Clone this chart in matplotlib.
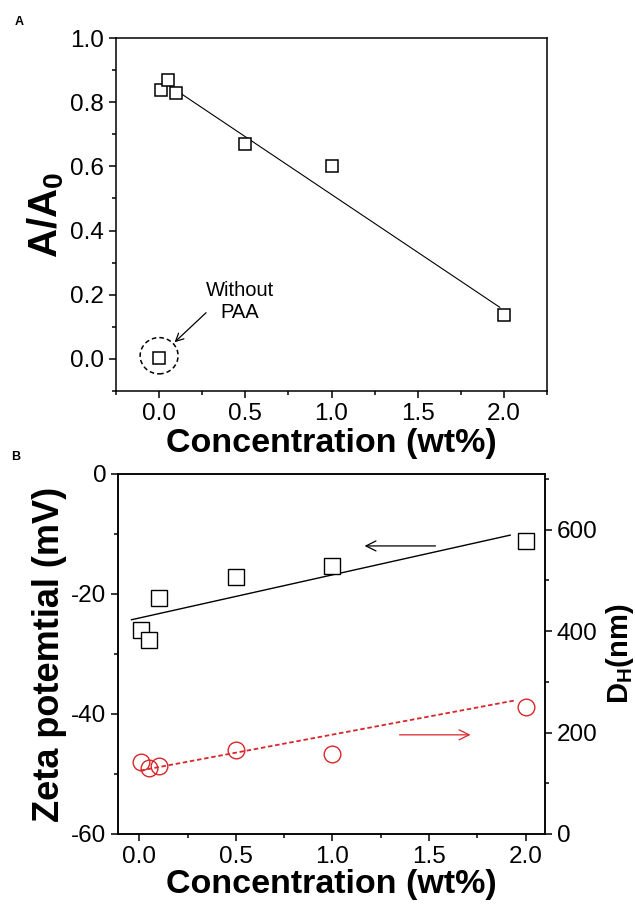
import matplotlib
matplotlib.use("Agg")
import matplotlib.pyplot as plt
from matplotlib.patches import Ellipse
from matplotlib.ticker import MultipleLocator

plt.rcParams['font.family'] = ['Liberation Sans', 'DejaVu Sans']
plt.rcParams['mathtext.fontset'] = 'custom'
plt.rcParams['mathtext.rm'] = 'Liberation Sans'
plt.rcParams['mathtext.bf'] = 'Liberation Sans:bold'
plt.rcParams['mathtext.it'] = 'Liberation Sans:italic'
plt.rcParams['axes.unicode_minus'] = False

# ---- data ----
conc_a = [0.01, 0.05, 0.10, 0.5, 1.0, 2.0]
a_ratio = [0.839, 0.870, 0.828, 0.669, 0.600, 0.137]
conc_nopaa = [0.0]
a_nopaa = [0.004]
fit_a_x = [0.06, 1.976]
fit_a_y = [0.851, 0.161]

conc_b = [0.01, 0.05, 0.10, 0.5, 1.0, 2.0]
zeta = [-26.0, -27.7, -20.7, -17.2, -15.3, -11.2]
dh = [141, 131, 134, 166, 158, 250]
fit_zeta_x = [-0.04, 1.92]
fit_zeta_y = [-24.3, -10.2]
fit_dh_x = [0.005, 1.94]
fit_dh_y = [125, 263]

red = '#d8262c'
TICK_FS = 17.5
XLAB_FS = 24.5

fig = plt.figure(figsize=(6.35, 9.06), dpi=100)

# ---------------- Panel A ----------------
ax = fig.add_axes([0.1827, 0.5684, 0.6787, 0.3896])
ax.plot(fit_a_x, fit_a_y, color='black', lw=0.8)
ax.plot(conc_a, a_ratio, ls='none', marker='s', ms=9, mfc='white', mec='black', mew=1.1)
ax.plot(conc_nopaa, a_nopaa, ls='none', marker='s', ms=9, mfc='white', mec='black', mew=1.1)
ax.add_patch(Ellipse((0.0, 0.01), 0.22, 0.113, fill=False, ls=(0, (3, 2)), lw=1.1, color='black'))
ax.annotate('', xy=(0.078, 0.046), xytext=(0.284, 0.150),
            arrowprops=dict(arrowstyle='->', lw=0.9, color='black', mutation_scale=14))
ax.text(0.468, 0.178, 'Without\nPAA', ha='center', va='center', fontsize=14.5, linespacing=1.2)
ax.set_xlim(-0.25, 2.25)
ax.set_ylim(-0.1, 1.0)
ax.xaxis.set_minor_locator(MultipleLocator(0.25))
ax.yaxis.set_minor_locator(MultipleLocator(0.1))
ax.tick_params(which='both', direction='out', top=False, right=False, width=1.1)
ax.tick_params(which='major', length=5, labelsize=TICK_FS)
ax.tick_params(which='minor', length=3)
ax.set_xticks([0.0, 0.5, 1.0, 1.5, 2.0])
ax.set_xticklabels(['0.0', '0.5', '1.0', '1.5', '2.0'])
ax.set_yticks([0.0, 0.2, 0.4, 0.6, 0.8, 1.0])
ax.set_yticklabels(['0.0', '0.2', '0.4', '0.6', '0.8', '1.0'])
for s in ax.spines.values():
    s.set_linewidth(1.1)
ax.set_xlabel('Concentration (wt%)', fontsize=XLAB_FS, fontweight='bold', labelpad=2)
ax.set_ylabel(r'$\mathbf{A/A_0}$', fontsize=29, labelpad=3)
fig.text(19 / 635, 1 - 22 / 906, 'A', fontsize=9, fontweight='bold', ha='center', va='center')

# ---------------- Panel B ----------------
bx = fig.add_axes([0.1858, 0.0795, 0.6724, 0.3974])
bx.plot(fit_zeta_x, fit_zeta_y, color='black', lw=1.0)
bx.plot(conc_b, zeta, ls='none', marker='s', ms=11, mfc='white', mec='black', mew=1.0)
bx.annotate('', xy=(1.152, -12.0), xytext=(1.548, -12.0),
            arrowprops=dict(arrowstyle='->', lw=0.9, color='black', mutation_scale=18))
bx.set_xlim(-0.11, 2.10)
bx.set_ylim(-60, 0)
bx.xaxis.set_minor_locator(MultipleLocator(0.25))
bx.yaxis.set_major_locator(MultipleLocator(20))
bx.yaxis.set_minor_locator(MultipleLocator(10))
bx.tick_params(which='both', direction='out', top=False, right=False, width=1.1)
bx.tick_params(which='major', length=5, labelsize=TICK_FS)
bx.tick_params(which='minor', length=3)
bx.set_xticks([0.0, 0.5, 1.0, 1.5, 2.0])
bx.set_xticklabels(['0.0', '0.5', '1.0', '1.5', '2.0'])
bx.set_xlabel('Concentration (wt%)', fontsize=XLAB_FS, fontweight='bold', labelpad=1)
bx.set_ylabel('Zeta potemtial (mV)', fontsize=26, fontweight='bold', labelpad=3)
for s in bx.spines.values():
    s.set_linewidth(1.1)

b2 = bx.twinx()
b2.plot(fit_dh_x, fit_dh_y, color=red, lw=1.3, ls=(0, (2.5, 1.5)))
b2.plot(conc_b, dh, ls='none', marker='o', ms=12, mfc='none', mec=red, mew=1.0)
b2.annotate('', xy=(1.729, 195.5), xytext=(1.333, 195.5),
            arrowprops=dict(arrowstyle='->', lw=0.9, color=red, mutation_scale=18))
b2.set_ylim(0, 710)
b2.yaxis.set_major_locator(MultipleLocator(200))
b2.yaxis.set_minor_locator(MultipleLocator(100))
b2.tick_params(which='both', direction='out', width=1.1)
b2.tick_params(which='major', length=5, labelsize=TICK_FS)
b2.tick_params(which='minor', length=3)
b2.set_ylabel(r'$\mathbf{D_H}$$\mathbf{(nm)}$', fontsize=21, labelpad=5)
for s in b2.spines.values():
    s.set_linewidth(1.1)
fig.text(16 / 635, 1 - 457 / 906, 'B', fontsize=9, fontweight='bold', ha='center', va='center')

fig.savefig('out.png', dpi=100)
